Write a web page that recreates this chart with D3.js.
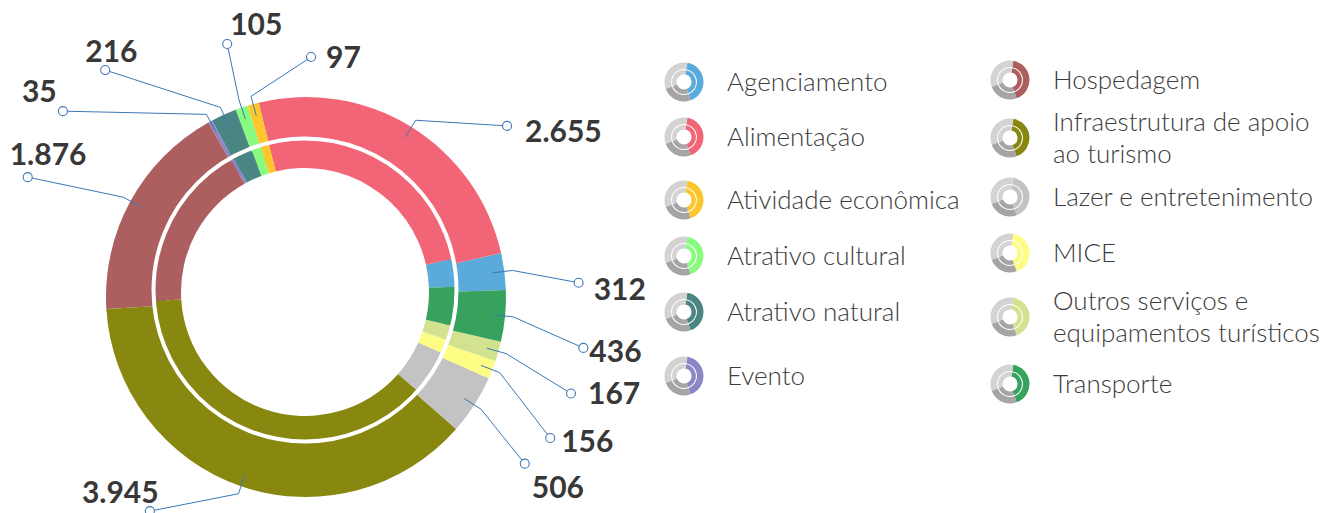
<!DOCTYPE html>
<html>
<head>
<meta charset="utf-8">
<script src="https://cdn.jsdelivr.net/npm/d3@7"></script>
<style>
  body { margin: 0; background: #fff; }
</style>
</head>
<body>
<div id="chart"></div>
<script>
// categories in alphabetical order (the ring runs counter-clockwise through them)
var categories = ["Agenciamento", "Alimentação", "Atividade econômica", "Atrativo cultural",
  "Atrativo natural", "Evento", "Hospedagem", "Infraestrutura de apoio ao turismo",
  "Lazer e entretenimento", "MICE", "Outros serviços e equipamentos turísticos", "Transporte"];
var values = [312, 2655, 97, 105, 216, 35, 1876, 3945, 506, 156, 167, 436];
var colors = ["#5aaadc", "#f26576", "#fcc62c", "#88fb80", "#4a8583", "#8a87c5",
  "#ad5f5f", "#88870f", "#c3c3c3", "#fdfc84", "#d2e28e", "#37a25d"];
// legend text, broken into lines
var legendLabels = [["Agenciamento"], ["Alimentação"], ["Atividade econômica"], ["Atrativo cultural"],
  ["Atrativo natural"], ["Evento"], ["Hospedagem"], ["Infraestrutura de apoio", "ao turismo"],
  ["Lazer e entretenimento"], ["MICE"], ["Outros serviços e", "equipamentos turísticos"], ["Transporte"]];

var data = categories.map(function(c, i) { return {name: c, value: values[i], color: colors[i]}; });

// where each value label sits: angle (deg) / radius of the little circle, then text offset
var labelSpots = [
  {a: 87, r: 273, dx: 15, dy: 17},
  {a: 49.6, r: 264, dx: 18, dy: 16},
  {a: 1.2, r: 240, dx: 15, dy: 11},
  {a: 342.7, r: 265, dx: 3, dy: -9},
  {a: 318.5, r: 303, dx: -20, dy: -8},
  {a: 307.4, r: 306, dx: -41, dy: -9},
  {a: 293.3, r: 303, dx: -18, dy: -12},
  {a: 216.1, r: 265, dx: -68, dy: -8},
  {a: 127.3, r: 275, dx: 7, dy: 34},
  {a: 120, r: 282, dx: 11, dy: 14},
  {a: 110, r: 282, dx: 17, dy: 11},
  {a: 100.4, r: 282, dx: 6, dy: 14}
];
// legend rows (text centre y) for the two columns
var legendRows = [82, 137, 200, 256, 312, 376, 80, 138, 197, 253, 317, 384];

var width = 1344, height = 513;
var cx = 306, cy = 297;
var rad = Math.PI / 180;

var svg = d3.select("#chart")
  .append("svg")
    .attr("width", width)
    .attr("height", height);

var fmt = d3.formatLocale({decimal: ",", thousands: ".", grouping: [3], currency: ["R$", ""]}).format(",d");

// pie goes counter-clockwise starting just under 3 o'clock
var pie = d3.pie()
  .sort(null)
  .value(function(d) { return d.value; })
  .startAngle(88 * rad)
  .endAngle(88 * rad - 2 * Math.PI);
var slices = pie(data);

var outerArc = d3.arc().innerRadius(140).outerRadius(200);
var innerArc = d3.arc().innerRadius(124).outerRadius(150);

// outer ring
svg.append("g")
    .attr("transform", "translate(" + cx + "," + cy + ")")
  .selectAll("path")
  .data(slices)
  .enter()
  .append("path")
    .attr("d", outerArc)
    .style("fill", function(d) { return d.data.color; });

// inner ring (sits a few px higher, like the original)
svg.append("g")
    .attr("transform", "translate(" + (cx - 1) + "," + (cy - 5) + ")")
  .selectAll("path")
  .data(slices)
  .enter()
  .append("path")
    .attr("d", innerArc)
    .style("fill", function(d) { return d.data.color; });

// white separator
svg.append("circle")
  .attr("cx", cx - 1)
  .attr("cy", cy - 7)
  .attr("r", 151.5)
  .style("fill", "none")
  .style("stroke", "#fff")
  .style("stroke-width", 4);

// leader lines + labels
var lineColor = "#3b78b6";
var labels = svg.append("g")
  .attr("transform", "translate(" + cx + "," + cy + ")");

slices.forEach(function(d, i) {
  var mid = (d.startAngle + d.endAngle) / 2;
  var spot = labelSpots[i];
  var p0 = d3.pointRadial(mid, 188),
      p1 = d3.pointRadial(mid, 208),
      p2 = d3.pointRadial(spot.a * rad, spot.r);

  labels.append("path")
    .attr("d", d3.line()([p0, p1, p2]))
    .style("fill", "none")
    .style("stroke", lineColor)
    .style("stroke-width", 1);

  labels.append("circle")
    .attr("cx", p2[0])
    .attr("cy", p2[1])
    .attr("r", 4.5)
    .style("fill", "#fff")
    .style("stroke", lineColor)
    .style("stroke-width", 1.1);

  labels.append("text")
    .attr("x", p2[0] + spot.dx)
    .attr("y", p2[1] + spot.dy)
    .text(fmt(d.data.value))
    .attr("font-family", "Lato, 'Open Sans', sans-serif")
    .attr("font-weight", "bold")
    .attr("font-size", "30px")
    .attr("fill", "#383838");
});

// legend
var iconOuter = d3.arc().innerRadius(13).outerRadius(19.5);
var iconInner = d3.arc().innerRadius(7.5).outerRadius(12);
var iconParts = [
  {s: 10, e: 160, key: "color"},
  {s: 160, e: 250, fill: "#a5a5a5"},
  {s: 250, e: 370, fill: "#d3d3d3"}
];

var legend = svg.append("g");
data.forEach(function(d, i) {
  var col = i < 6 ? 0 : 1;
  var ix = col === 0 ? 684 : 1010;
  var tx = col === 0 ? 727 : 1053;
  var y = legendRows[i];
  var icon = legend.append("g").attr("transform", "translate(" + ix + "," + y + ")");
  [iconOuter, iconInner].forEach(function(arc) {
    iconParts.forEach(function(p) {
      icon.append("path")
        .attr("d", arc({startAngle: p.s * rad, endAngle: p.e * rad}))
        .style("fill", p.key ? d.color : p.fill);
    });
  });

  var lines = legendLabels[i];
  var lh = 31.5;
  lines.forEach(function(l, j) {
    legend.append("text")
      .attr("x", tx)
      .attr("y", y + 9 - (lines.length - 1) * lh / 2 + j * lh)
      .text(l)
      .attr("font-family", "Lato, 'Open Sans', sans-serif")
      .attr("font-weight", 300)
      .attr("font-size", "26px")
      .attr("fill", "#3c3c3c");
  });
});
</script>
</body>
</html>
